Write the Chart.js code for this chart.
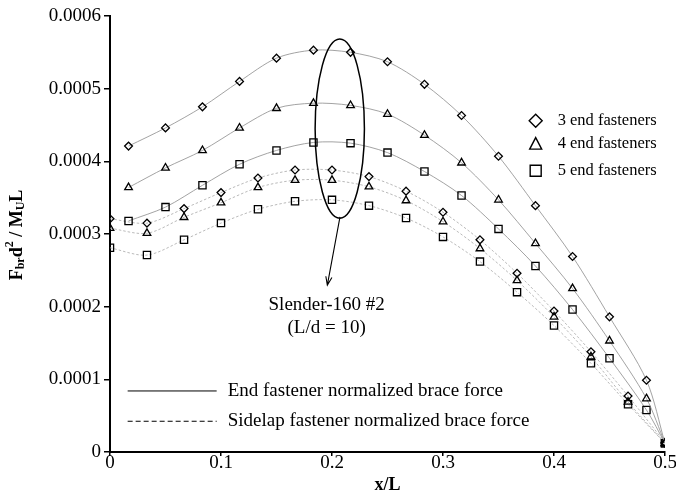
<!DOCTYPE html>
<html>
<head>
<meta charset="utf-8">
<script src="https://cdn.jsdelivr.net/npm/chart.js@4"></script>
<style>
  html, body { margin: 0; padding: 0; background: #fff; }
  #wrap { width: 676px; height: 502px; }
</style>
</head>
<body>
<div id="wrap"><canvas id="braceChart"></canvas></div>
<script>
// end fastener positions (x/L) and normalized brace force
const xEnd = [0.0167, 0.05, 0.0833, 0.1167, 0.15, 0.1833, 0.2167, 0.25, 0.2833, 0.3167, 0.35, 0.3833, 0.4167, 0.45, 0.4833, 0.5];
const end3 = [0.000421, 0.000446, 0.000475, 0.000510, 0.000542, 0.000553, 0.000550, 0.000537, 0.000506, 0.000463, 0.000407, 0.000339, 0.000269, 0.000186, 0.0000987, 0.000012];
const end4 = [0.000364, 0.000391, 0.000415, 0.000446, 0.000473, 0.000480, 0.000477, 0.000465, 0.000436, 0.000398, 0.000347, 0.000287, 0.000225, 0.000153, 0.0000735, 0.000012];
const end5 = [0.000318, 0.000337, 0.000367, 0.000396, 0.000415, 0.000426, 0.000425, 0.000412, 0.000386, 0.000353, 0.000307, 0.000256, 0.000196, 0.000129, 0.0000578, 0.000012];

// sidelap fastener positions and normalized brace force
const xSide = [0, 0.0333, 0.0667, 0.1, 0.1333, 0.1667, 0.2, 0.2333, 0.2667, 0.3, 0.3333, 0.3667, 0.4, 0.4333, 0.4667, 0.5];
const side3 = [0.000321, 0.000315, 0.000335, 0.000357, 0.000377, 0.000388, 0.000388, 0.000379, 0.000359, 0.000330, 0.000292, 0.000246, 0.000194, 0.000138, 0.0000771, 0.000013];
const side4 = [0.000308, 0.000301, 0.000323, 0.000343, 0.000364, 0.000374, 0.000374, 0.000365, 0.000346, 0.000317, 0.000280, 0.000236, 0.000186, 0.000131, 0.0000689, 0.000012];
const side5 = [0.000281, 0.000271, 0.000292, 0.000315, 0.000334, 0.000345, 0.000347, 0.000339, 0.000322, 0.000296, 0.000262, 0.000220, 0.000174, 0.000122, 0.0000657, 0.000012];

const seriesNames = ['3 end fasteners', '4 end fasteners', '5 end fasteners'];
const lineNames = ['End fastener normalized brace force', 'Sidelap fastener normalized brace force'];
const xTicks = [0, 0.1, 0.2, 0.3, 0.4, 0.5];
const yTicks = [0, 0.0001, 0.0002, 0.0003, 0.0004, 0.0005, 0.0006];

const serif = "'Liberation Serif', 'Times New Roman', serif";
const markers = ['rectRot', 'triangle', 'rect'];
const markerSize = [3.9, 4.4, 5.1];

function toPoints(xs, ys) {
  return xs.map((x, i) => ({x: x, y: ys[i]}));
}

function makeSet(label, xs, ys, idx, dashed) {
  return {
    label: label,
    data: toPoints(xs, ys),
    borderColor: dashed ? '#a8a8a8' : '#8c8c8c',
    borderWidth: 0.8,
    borderDash: dashed ? [2.5, 2] : [],
    tension: 0.3,
    pointStyle: markers[idx],
    pointRadius: markerSize[idx],
    pointBorderColor: '#000',
    pointBorderWidth: 1.3,
    pointBackgroundColor: 'rgba(255,255,255,0)',
    pointHoverRadius: markerSize[idx]
  };
}

const extras = {
  id: 'extras',
  afterDraw: (chart) => {
    const {ctx} = chart;
    const xs = chart.scales.x, ys = chart.scales.y;
    const px = v => xs.getPixelForValue(v);
    const py = v => ys.getPixelForValue(v);
    ctx.save();

    // ellipse around peak
    const cx = px(0.207), cy = py(0.000445);
    const rx = px(0.207 + 0.0222) - cx;
    const ry = cy - py(0.000445 + 0.0001232);
    ctx.strokeStyle = '#000';
    ctx.lineWidth = 1.5;
    ctx.beginPath();
    ctx.ellipse(cx, cy, rx, ry, 0, 0, Math.PI * 2);
    ctx.stroke();

    // arrow down to the label
    const ax0 = px(0.2072), ay0 = py(0.0003236);
    const ax1 = px(0.1958), ay1 = py(0.0002296);
    ctx.lineWidth = 1.1;
    ctx.beginPath();
    ctx.moveTo(ax0, ay0);
    ctx.lineTo(ax1, ay1);
    const ang = Math.atan2(ay1 - ay0, ax1 - ax0);
    const hl = 9;
    ctx.moveTo(ax1 - hl * Math.cos(ang - 0.35), ay1 - hl * Math.sin(ang - 0.35));
    ctx.lineTo(ax1, ay1);
    ctx.lineTo(ax1 - hl * Math.cos(ang + 0.35), ay1 - hl * Math.sin(ang + 0.35));
    ctx.stroke();

    ctx.fillStyle = '#000';
    ctx.font = '19px ' + serif;
    ctx.textAlign = 'center';
    ctx.textBaseline = 'middle';
    ctx.fillText('Slender-160 #2', px(0.1952), py(0.000202));
    ctx.fillText('(L/d = 10)', px(0.1952), py(0.0001703));

    // marker legend (top right)
    const legY = [0.0004558, 0.0004237, 0.000387];
    ctx.font = '16.5px ' + serif;
    ctx.textAlign = 'left';
    seriesNames.forEach((name, i) => {
      const mx = px(0.3835), my = py(legY[i]);
      ctx.lineWidth = 1.4;
      ctx.strokeStyle = '#000';
      ctx.beginPath();
      if (i === 0) {
        ctx.moveTo(mx, my - 6.5); ctx.lineTo(mx + 6.5, my);
        ctx.lineTo(mx, my + 6.5); ctx.lineTo(mx - 6.5, my);
        ctx.closePath();
      } else if (i === 1) {
        ctx.moveTo(mx, my - 6.5); ctx.lineTo(mx + 6, my + 5);
        ctx.lineTo(mx - 6, my + 5); ctx.closePath();
      } else {
        ctx.rect(mx - 5.5, my - 5.5, 11, 11);
      }
      ctx.stroke();
      ctx.fillText(name, px(0.4033), my);
    });

    // line style legend (bottom left)
    ctx.font = '19px ' + serif;
    const lineY = [0.000084, 0.0000423];
    lineNames.forEach((name, i) => {
      const ly = py(lineY[i]);
      ctx.lineWidth = 1;
      ctx.strokeStyle = '#000';
      ctx.setLineDash(i === 0 ? [] : [5, 3]);
      ctx.beginPath();
      ctx.moveTo(px(0.0159), ly);
      ctx.lineTo(px(0.0961), ly);
      ctx.stroke();
      ctx.setLineDash([]);
      ctx.fillText(name, px(0.106), ly);
    });

    // y axis title with sub/superscripts
    const parts = [
      ['F', 0, 18], ['br', 4, 12], ['d', 0, 18], ['2', -7, 12],
      [' / M', 0, 18], ['U', 4, 12], ['L', 0, 18]
    ];
    let total = 0;
    parts.forEach(p => {
      ctx.font = 'bold ' + p[2] + 'px ' + serif;
      total += ctx.measureText(p[0]).width;
    });
    ctx.translate(17, (chart.chartArea.top + chart.chartArea.bottom) / 2 + 1);
    ctx.rotate(-Math.PI / 2);
    let pos = -total / 2;
    ctx.textAlign = 'left';
    ctx.textBaseline = 'middle';
    parts.forEach(p => {
      ctx.font = 'bold ' + p[2] + 'px ' + serif;
      ctx.fillText(p[0], pos, p[1]);
      pos += ctx.measureText(p[0]).width;
    });
    ctx.restore();
  }
};

new Chart(document.getElementById('braceChart'), {
  type: 'line',
  data: {
    datasets: [
      makeSet(seriesNames[0], xEnd, end3, 0, false),
      makeSet(seriesNames[1], xEnd, end4, 1, false),
      makeSet(seriesNames[2], xEnd, end5, 2, false),
      makeSet(seriesNames[0] + ' sidelap', xSide, side3, 0, true),
      makeSet(seriesNames[1] + ' sidelap', xSide, side4, 1, true),
      makeSet(seriesNames[2] + ' sidelap', xSide, side5, 2, true)
    ]
  },
  options: {
    responsive: true,
    maintainAspectRatio: false,
    animation: false,
    layout: { padding: { left: 0, right: 11, top: 16, bottom: 0 } },
    plugins: {
      legend: { display: false },
      tooltip: { enabled: false }
    },
    scales: {
      x: {
        type: 'linear',
        min: 0,
        max: 0.5,
        afterFit: s => { s.height = 50; },
        afterBuildTicks: s => { s.ticks = xTicks.map(v => ({value: v})); },
        border: { color: '#000', width: 2 },
        grid: { drawOnChartArea: false, drawTicks: true, tickLength: 4, color: '#000', lineWidth: 1.5 },
        ticks: {
          color: '#000',
          padding: -4,
          font: { family: serif, size: 19 },
          callback: v => v === 0 ? '0' : v.toFixed(1)
        },
        title: {
          display: true,
          text: 'x/L',
          color: '#000',
          font: { family: serif, size: 18, weight: 'bold' },
          padding: { top: 0, bottom: 6 }
        }
      },
      y: {
        min: 0,
        max: 0.0006,
        afterFit: s => { s.width = 110; },
        afterBuildTicks: s => { s.ticks = yTicks.map(v => ({value: v})); },
        border: { color: '#000', width: 2 },
        grid: { drawOnChartArea: false, drawTicks: true, tickLength: 6, color: '#000', lineWidth: 1.5 },
        ticks: {
          color: '#000',
          padding: 3,
          font: { family: serif, size: 19 },
          callback: v => v === 0 ? '0' : v.toFixed(4)
        }
      }
    }
  },
  plugins: [extras]
});
</script>
</body>
</html>
